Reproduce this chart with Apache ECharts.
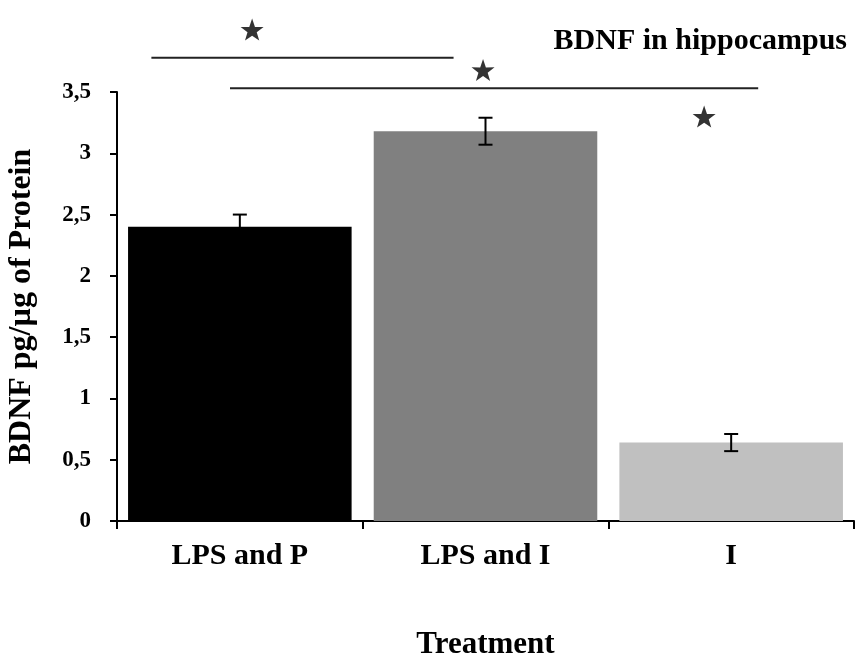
<!DOCTYPE html>
<html><head><meta charset="utf-8">
<script src="https://cdn.jsdelivr.net/npm/echarts@6/dist/echarts.min.js"></script>
<style>html,body{margin:0;padding:0;background:#fff}#c{width:858px;height:660px}</style>
</head><body><div id="c"></div>
<script>
var categories = ['LPS and P', 'LPS and I', 'I'];
var means = [2.40, 3.18, 0.64];
var errors = [0.10, 0.11, 0.07];
var barColors = ['#000000', '#808080', '#c0c0c0'];
var yTicks = [0, 0.5, 1, 1.5, 2, 2.5, 3, 3.5];
// significance brackets: [xStart, xEnd, y] in category units (0..3) / value units
var sigLines = [[0.14, 1.37, 3.78], [0.46, 2.61, 3.53]];
// star positions [x, y]
var stars = [[0.55, 4.01], [1.49, 3.68], [2.39, 3.30]];

var font = 'Liberation Serif';
var starPath = 'path://M50,0 L61.8,35.1 L97.6,34.5 L69.1,56.7 L79.4,90.5 L50,70.6 L20.6,90.5 L30.9,56.7 L2.4,34.5 L38.2,35.1 Z';
var chart = echarts.init(document.getElementById('c'));

var series = [
  {
    type: 'bar', xAxisIndex: 0, yAxisIndex: 0,
    data: means.map(function (v, i) { return { value: v, itemStyle: { color: barColors[i] } }; }),
    barCategoryGap: '9%', silent: true
  },
  {
    type: 'custom', xAxisIndex: 0, yAxisIndex: 0, silent: true,
    data: means.map(function (v, i) { return [i, v - errors[i], v + errors[i]]; }),
    renderItem: function (params, api) {
      var lo = api.coord([api.value(0), api.value(1)]);
      var hi = api.coord([api.value(0), api.value(2)]);
      var w = 7;
      var st = { stroke: '#000', lineWidth: 2 };
      return { type: 'group', children: [
        { type: 'line', shape: { x1: hi[0], y1: hi[1], x2: lo[0], y2: lo[1] }, style: st },
        { type: 'line', shape: { x1: hi[0] - w, y1: hi[1], x2: hi[0] + w, y2: hi[1] }, style: st },
        { type: 'line', shape: { x1: lo[0] - w, y1: lo[1], x2: lo[0] + w, y2: lo[1] }, style: st }
      ] };
    },
    z: 5
  }
];
sigLines.forEach(function (l) {
  series.push({
    type: 'line', xAxisIndex: 1, yAxisIndex: 0, clip: false, silent: true,
    symbol: 'none', lineStyle: { color: '#222', width: 2 },
    data: [[l[0], l[2]], [l[1], l[2]]]
  });
});
series.push({
  type: 'scatter', xAxisIndex: 1, yAxisIndex: 0, clip: false, silent: true,
  symbol: starPath, symbolSize: [23, 22], itemStyle: { color: '#000' },
  data: stars
});

chart.setOption({
  animation: false,
  backgroundColor: '#fff',
  title: {
    text: 'BDNF in hippocampus', right: 6, top: 21,
    textStyle: { fontFamily: font, fontWeight: 'bold', fontSize: 30, color: '#000' }
  },
  grid: { left: 117, right: 4, top: 92, bottom: 139, outerBoundsMode: 'none', containLabel: false },
  xAxis: [
    {
      type: 'category', data: categories,
      name: 'Treatment', nameLocation: 'middle', nameGap: 108,
      nameTextStyle: { fontFamily: font, fontWeight: 'bold', fontSize: 31, color: '#000' },
      axisLine: { lineStyle: { color: '#000', width: 2 } },
      axisTick: { show: true, length: 8, lineStyle: { color: '#000', width: 2 } },
      axisLabel: { margin: 20, fontFamily: font, fontWeight: 'bold', fontSize: 30, color: '#000' }
    },
    { type: 'value', min: 0, max: 3, show: false }
  ],
  yAxis: {
    type: 'value', min: 0, max: 3.5, interval: 0.5,
    name: 'BDNF pg/µg of Protein', nameLocation: 'middle', nameGap: 79,
    nameTextStyle: { fontFamily: font, fontWeight: 'bold', fontSize: 32, color: '#000' },
    axisLine: { show: true, lineStyle: { color: '#000', width: 2 } },
    axisTick: { show: true, length: 7, lineStyle: { color: '#000', width: 2 } },
    splitLine: { show: false },
    axisLabel: {
      margin: 26, fontFamily: font, fontWeight: 'bold', fontSize: 23, color: '#000',
      formatter: function (v) { return String(v).replace('.', ','); }
    }
  },
  series: series
});
</script></body></html>
